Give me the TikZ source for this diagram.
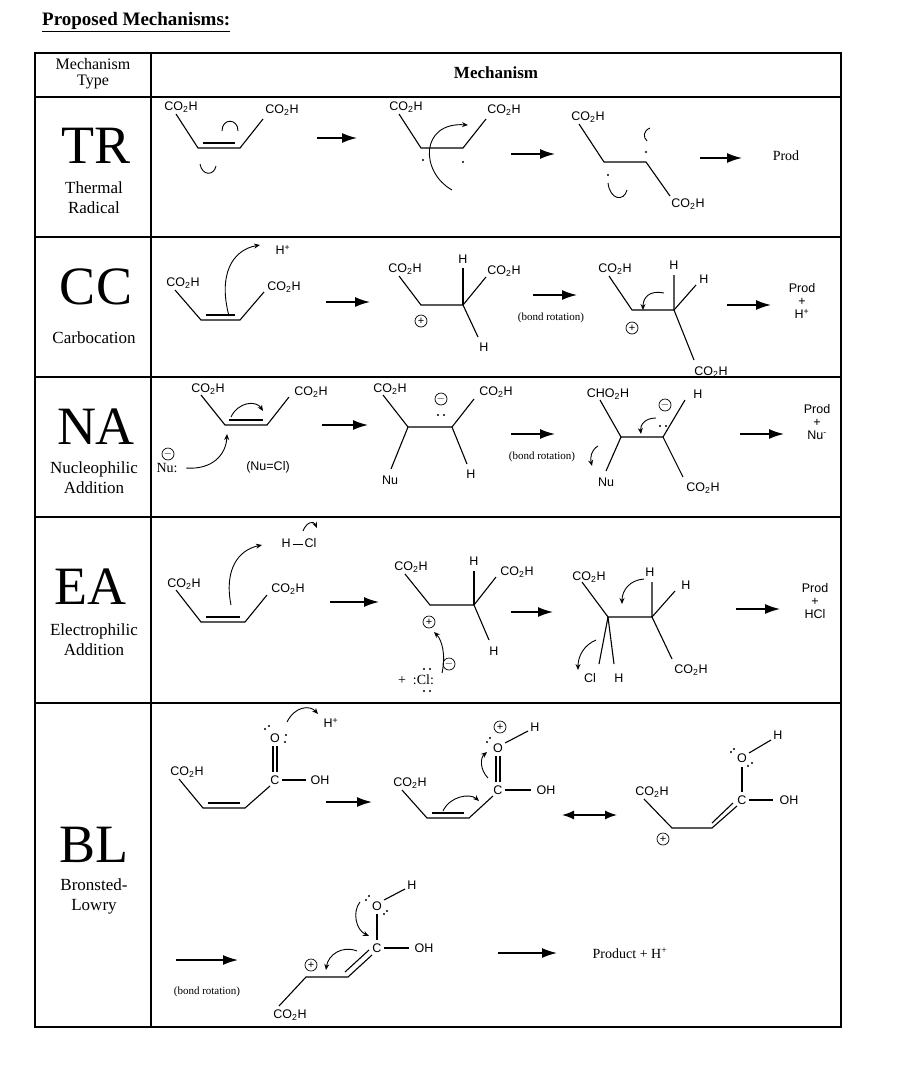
\documentclass[tikz,border=0pt]{standalone}
\usepackage{fontspec}
\setmainfont{Liberation Serif}
\newfontfamily\arialf{Liberation Sans}
\usetikzlibrary{arrows.meta}
\newcommand\COH{CO\textsubscript{2}H}
\begin{document}
\begin{tikzpicture}[x=1pt,y=-1pt,
  ch/.style={font=\arialf\fontsize{12.5}{13}\selectfont,inner sep=0.5pt},
  tm/.style={font=\fontsize{11}{12}\selectfont,inner sep=0.5pt},
  big/.style={font=\fontsize{54}{54}\selectfont,inner sep=0pt},
  lab/.style={font=\fontsize{17}{20}\selectfont,align=center,inner sep=0pt},
  bd/.style={line width=1.1pt},
  rx/.style={line width=1.5pt,-{Latex[length=15pt,width=10pt]}},
  cu/.style={line width=0.9pt,-{Stealth[length=6pt,width=5pt]}},
  cun/.style={line width=0.9pt},
  chg/.style={circle,draw,line width=0.7pt,inner sep=0pt,minimum size=12pt,font=\arialf\fontsize{11}{11}\selectfont},
  grid/.style={line width=1.5pt}]
\useasboundingbox (0,0) rectangle (902,1074);
% title and table
\node[font=\bfseries\fontsize{19}{21}\selectfont,anchor=west,inner sep=0pt] (title) at (42,22) {\underline{Proposed Mechanisms:}};
\draw[grid] (35,53) rectangle (841,1027);
\draw[grid] (151,53) -- (151,1027);
\foreach \yy in {97,237,377,517,703} \draw[grid] (35,\yy) -- (841,\yy);
\node[lab,font=\fontsize{16}{16}\selectfont] (hT) at (93,74) {Mechanism\\Type};
\node[lab,font=\bfseries\fontsize{17}{18}\selectfont] (hM) at (496,73) {Mechanism};
\node[big] (TR) at (96,146) {TR};
\node[lab] (TRl) at (94,198) {Thermal\\Radical};
\node[big] (CC) at (96,287) {CC};
\node[lab] (CCl) at (94,338) {Carbocation};
\node[big] (NA) at (96,427) {NA};
\node[lab] (NAl) at (94,478) {Nucleophilic\\Addition};
\node[big] (EA) at (90,587) {EA};
\node[lab] (EAl) at (94,640) {Electrophilic\\Addition};
\node[big] (BL) at (94,845) {BL};
\node[lab] (BLl) at (94,896) {Bronsted-\\Lowry};

% ===== TR =====
\node[ch] (t1a) at (181,107) {\COH};
\node[ch] (t1b) at (282,110) {\COH};
\draw[bd] (176,114) -- (198,148) -- (240,148) -- (263,119);
\draw[bd] (203,143) -- (235,143);
\draw[cun] (222,131) .. controls (222,118) and (238,118) .. (238,131);
\draw[cun] (200,164) .. controls (202,176) and (214,176) .. (216,166);
\draw[rx] (317,138) -- (357,138);
\node[ch] (t2a) at (406,107) {\COH};
\node[ch] (t2b) at (504,110) {\COH};
\draw[bd] (399,114) -- (421,148) -- (463,148) -- (486,119);
\fill (423,160) circle (1.2) (463,162) circle (1.2);
\draw[cu] (452,190) .. controls (420,172) and (420,122) .. (468,125);
\draw[rx] (511,154) -- (555,154);
\node[ch] (t3a) at (588,117) {\COH};
\node[ch] (t3b) at (688,204) {\COH};
\draw[bd] (579,124) -- (604,162) -- (646,162) -- (670,196);
\fill (608,175) circle (1.2) (646,152) circle (1.2);
\draw[cun] (650,128) .. controls (643,131) and (643,137) .. (647,141);
\draw[cun] (608,183) .. controls (610,200) and (624,202) .. (627,190);
\draw[rx] (700,158) -- (742,158);
\node[tm,font=\fontsize{14}{15}\selectfont] (t4) at (786,156) {Prod};

% ===== CC =====
\node[ch] (c1a) at (183,283) {\COH};
\node[ch] (c1b) at (284,287) {\COH};
\node[ch] (c1h) at (283,250) {H\textsuperscript{+}};
\draw[bd] (175,290) -- (201,320) -- (240,320) -- (264,292);
\draw[bd] (206,315) -- (235,315);
\draw[cu] (229,316) .. controls (218,275) and (232,250) .. (260,245);
\draw[rx] (326,302) -- (370,302);
\node[ch] (c2a) at (405,269) {\COH};
\node[ch] (c2b) at (504,271) {\COH};
\node[ch] (c2h1) at (463,259) {H};
\node[ch] (c2h2) at (484,347) {H};
\draw[bd] (399,276) -- (421,305) -- (463,305) -- (486,277);
\draw[bd] (463,305) -- (463,268);
\draw[bd] (463,305) -- (478,337);
\node[chg] (c2p) at (421,321) {+};
\draw[rx] (533,295) -- (577,295);
\node[tm,font=\fontsize{11}{12}\selectfont] (c2r) at (551,318) {(bond rotation)};
\node[ch] (c3a) at (615,269) {\COH};
\node[ch] (c3h1) at (674,265) {H};
\node[ch] (c3h2) at (704,279) {H};
\node[ch] (c3b) at (711,372) {\COH};
\draw[bd] (609,276) -- (632,310) -- (674,310) -- (674,275);
\draw[bd] (674,310) -- (696,285);
\draw[bd] (674,310) -- (694,360);
\node[chg] (c3p) at (632,328) {+};
\draw[cu] (664,293) .. controls (650,290) and (643,297) .. (643,310);
\draw[rx] (727,305) -- (771,305);
\node[ch,align=center] (c4) at (802,301) {Prod\\+\\H\textsuperscript{+}};

% ===== NA =====
\node[ch] (n1a) at (208,389) {\COH};
\node[ch] (n1b) at (311,392) {\COH};
\draw[bd] (201,395) -- (225,425) -- (267,425) -- (289,397);
\draw[bd] (229,420) -- (263,420);
\draw[cu] (231,417) .. controls (238,402) and (256,400) .. (263,411);
\node[tm,font=\fontsize{14}{15}\selectfont] (n1n) at (167,468) {Nu:};
\node[chg] (n1m) at (168,454) {$-$};
\draw[cu] (186,468) .. controls (212,470) and (226,455) .. (227,434);
\node[ch] (n1c) at (268,467) {(Nu=Cl)};
\draw[rx] (322,425) -- (368,425);
\node[ch] (n2a) at (390,389) {\COH};
\node[ch] (n2b) at (496,392) {\COH};
\node[ch] (n2nu) at (390,480) {Nu};
\node[ch] (n2h) at (471,474) {H};
\draw[bd] (383,395) -- (408,427) -- (452,427) -- (474,399);
\draw[bd] (408,427) -- (391,469);
\draw[bd] (452,427) -- (467,464);
\node[chg] (n2m) at (441,399) {$-$};
\fill (438,415) circle (1.2) (444,415) circle (1.2);
\draw[rx] (511,434) -- (555,434);
\node[tm,font=\fontsize{11}{12}\selectfont] (n2r) at (542,457) {(bond rotation)};
\node[ch] (n3a) at (608,394) {CHO\textsubscript{2}H};
\node[ch] (n3h) at (698,394) {H};
\node[ch] (n3nu) at (606,482) {Nu};
\node[ch] (n3b) at (703,488) {\COH};
\draw[bd] (600,400) -- (621,437) -- (663,437) -- (685,400);
\draw[bd] (663,437) -- (683,477);
\draw[bd] (621,437) -- (606,471);
\node[chg] (n3m) at (665,405) {$-$};
\fill (660,426) circle (1.2) (666,426) circle (1.2);
\draw[cu] (656,418) .. controls (645,418) and (640,425) .. (641,434);
\draw[cu] (598,446) .. controls (591,450) and (590,458) .. (592,466);
\draw[rx] (740,434) -- (784,434);
\node[ch,align=center] (n4) at (817,422) {Prod\\+\\Nu\textsuperscript{-}};

% ===== EA =====
\node[ch] (e1hcl) at (299,543) {H\,\raisebox{0.4ex}{\rule{10pt}{1pt}}\,Cl};
\draw[cu] (303,531) .. controls (307,521) and (314,521) .. (317,528);
\node[ch] (e1a) at (184,584) {\COH};
\node[ch] (e1b) at (288,589) {\COH};
\draw[bd] (176,590) -- (201,622) -- (245,622) -- (267,595);
\draw[bd] (206,617) -- (240,617);
\draw[cu] (231,605) .. controls (224,570) and (238,550) .. (262,545);
\draw[rx] (330,602) -- (379,602);
\node[ch] (e2a) at (411,567) {\COH};
\node[ch] (e2b) at (517,572) {\COH};
\node[ch] (e2h1) at (474,561) {H};
\node[ch] (e2h2) at (494,651) {H};
\draw[bd] (405,574) -- (430,605) -- (474,605) -- (496,577);
\draw[bd] (474,605) -- (474,571);
\draw[bd] (474,605) -- (489,640);
\node[chg] (e2p) at (429,622) {+};
\node[tm,font=\fontsize{14}{15}\selectfont] (e2cl) at (416,680) {+\ \ :Cl:};
\fill (424,669) circle (1.2) (430,669) circle (1.2) (424,691) circle (1.2) (430,691) circle (1.2);
\node[chg] (e2m) at (449,664) {$-$};
\draw[cu] (442,673) .. controls (446,655) and (442,640) .. (434,632);
\draw[rx] (511,612) -- (553,612);
\node[ch] (e3a) at (589,577) {\COH};
\node[ch] (e3h1) at (650,572) {H};
\node[ch] (e3h2) at (686,585) {H};
\node[ch] (e3b) at (691,670) {\COH};
\node[ch] (e3cl) at (590,678) {Cl};
\node[ch] (e3h3) at (619,678) {H};
\draw[bd] (582,582) -- (608,617) -- (652,617) -- (652,582);
\draw[bd] (652,617) -- (675,591);
\draw[bd] (652,617) -- (672,659);
\draw[bd] (608,617) -- (599,664);
\draw[bd] (608,617) -- (614,664);
\draw[cu] (644,579) .. controls (630,580) and (622,590) .. (622,604);
\draw[cu] (596,640) .. controls (584,645) and (578,656) .. (578,670);
\draw[rx] (736,609) -- (780,609);
\node[ch,align=center] (e4) at (815,601) {Prod\\+\\HCl};

% ===== BL row 1 =====
\node[ch] (b1a) at (187,772) {\COH};
\draw[bd] (179,779) -- (203,808) -- (245,808) -- (270,786);
\draw[bd] (208,803) -- (240,803);
\node[ch] (b1c) at (275,780) {C};
\draw[bd] (282,780) -- (306,780);
\node[ch] (b1oh) at (320,780) {OH};
\draw[bd] (273,772) -- (273,746);
\draw[bd] (277,772) -- (277,746);
\node[ch] (b1o) at (275,738) {O};
\fill (265,729) circle (1.1) (269,726) circle (1.1) (285,742) circle (1.1) (286,735) circle (1.1);
\draw[cu] (287,722) .. controls (295,706) and (310,705) .. (318,714);
\node[ch] (b1h) at (331,723) {H\textsuperscript{+}};
\draw[rx] (326,802) -- (372,802);
\node[ch] (b2a) at (410,783) {\COH};
\draw[bd] (402,790) -- (427,818) -- (469,818) -- (493,796);
\draw[bd] (432,813) -- (464,813);
\node[ch] (b2c) at (498,790) {C};
\draw[bd] (505,790) -- (531,790);
\node[ch] (b2oh) at (546,790) {OH};
\draw[bd] (496,782) -- (496,756);
\draw[bd] (500,782) -- (500,756);
\node[ch] (b2o) at (498,748) {O};
\fill (487,742) circle (1.1) (490,738) circle (1.1);
\draw[bd] (505,743) -- (528,731);
\node[ch] (b2h) at (535,727) {H};
\node[chg] (b2p) at (500,727) {+};
\draw[cu] (488,778) .. controls (480,770) and (480,758) .. (487,752);
\draw[cu] (443,811) .. controls (450,796) and (470,793) .. (479,801);
\draw[line width=1.5pt,{Latex[length=12pt,width=9pt]}-{Latex[length=12pt,width=9pt]}] (562,815) -- (617,815);
\node[ch] (b3a) at (652,792) {\COH};
\draw[bd] (644,799) -- (672,828) -- (712,828) -- (737,806);
\draw[bd] (712,823) -- (733,803);
\node[ch] (b3c) at (742,800) {C};
\draw[bd] (749,800) -- (773,800);
\node[ch] (b3oh) at (789,800) {OH};
\draw[bd] (742,792) -- (742,767);
\node[ch] (b3o) at (742,758) {O};
\fill (731,752) circle (1.1) (734,749) circle (1.1) (748,766) circle (1.1) (752,763) circle (1.1);
\draw[bd] (749,753) -- (771,740);
\node[ch] (b3h) at (778,735) {H};
\node[chg] (b3p) at (663,839) {+};

% ===== BL row 2 =====
\draw[rx] (176,960) -- (238,960);
\node[tm,font=\fontsize{11}{12}\selectfont] (b4r) at (207,992) {(bond rotation)};
\node[ch] (b4o) at (377,906) {O};
\fill (366,900) circle (1.1) (369,896) circle (1.1) (384,914) circle (1.1) (387,911) circle (1.1);
\draw[bd] (384,900) -- (405,889);
\node[ch] (b4h) at (412,885) {H};
\draw[bd] (377,914) -- (377,940);
\node[ch] (b4c) at (377,948) {C};
\draw[bd] (384,948) -- (409,948);
\node[ch] (b4oh) at (424,948) {OH};
\draw[bd] (372,955) -- (348,977) -- (306,977) -- (279,1006);
\draw[bd] (369,950) -- (345,972);
\node[ch] (b4b) at (290,1015) {\COH};
\node[chg] (b4p) at (311,965) {+};
\draw[cu] (360,902) .. controls (352,912) and (356,930) .. (369,936);
\draw[cu] (357,951) .. controls (342,945) and (328,955) .. (326,970);
\draw[rx] (498,953) -- (557,953);
\node[tm,font=\fontsize{14}{15}\selectfont] (b5) at (630,953) {Product + H\textsuperscript{+}};
\end{tikzpicture}
\end{document}
